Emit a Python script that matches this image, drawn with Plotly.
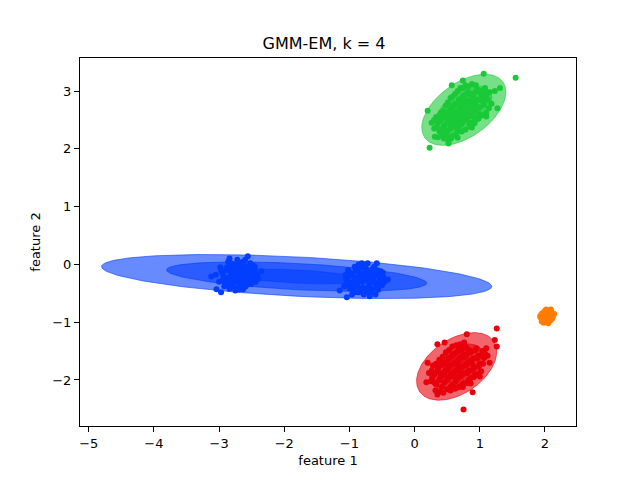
import numpy as np
import plotly.graph_objects as go

# ---------------- data ----------------
blue_x = [-2.95, -2.90, -2.88, -2.85, -2.82, -2.80, -2.78, -2.76, -2.74, -2.72, -2.70, -2.68,
          -2.66, -2.64, -2.62, -2.60, -2.58, -2.56, -2.54, -2.52, -2.50, -2.46, -2.44, -2.42,
          -3.00, -2.98, -2.92, -2.86, -2.72, -2.60, -2.48, -2.40, -2.84, -2.75, -2.66, -3.05,
          -2.56, -2.84, -3.04, -2.97, -2.69, -2.63, -3.12, -2.35, -2.50,
          -2.93, -2.89, -2.87, -2.83, -2.81, -2.79, -2.77, -2.75, -2.73, -2.71, -2.69, -2.67,
          -2.65, -2.63, -2.61, -2.59, -2.57, -2.55, -2.53, -2.51, -2.49, -2.47, -2.45, -2.43,
          -2.97, -2.91, -2.84, -2.78, -2.70, -2.62, -2.58, -2.52, -2.82, -2.68, -2.94, -2.76,
          -1.05, -1.00, -0.98, -0.95, -0.92, -0.90, -0.88, -0.86, -0.84, -0.82, -0.80, -0.78,
          -0.76, -0.74, -0.72, -0.70, -0.68, -0.66, -0.64, -0.62, -0.60, -0.58, -0.56, -0.54,
          -0.52, -0.50, -0.48, -1.08, -0.96, -0.86, -0.72, -0.60, -0.46, -0.78, -1.02,
          -0.58, -0.81, -1.15, -1.04, -0.41, -0.69,
          -1.03, -1.01, -0.99, -0.97, -0.94, -0.93, -0.91, -0.89, -0.87, -0.85, -0.83, -0.81,
          -0.79, -0.77, -0.75, -0.73, -0.71, -0.69, -0.67, -0.65, -0.63, -0.61, -0.59, -0.57,
          -0.55, -0.53, -0.51, -0.49, -0.84, -0.70, -0.88, -0.62, -0.76, -1.06, -0.92, -0.80]
blue_y = [-0.15, -0.25, -0.05, -0.35, -0.12, -0.22, 0.00, -0.30, -0.18, -0.08, -0.40, -0.26,
          -0.14, 0.04, -0.32, -0.20, -0.06, -0.28, -0.14, 0.02, -0.22, -0.10, -0.30, -0.18,
          -0.30, -0.05, -0.38, 0.05, 0.08, 0.08, -0.02, -0.25, -0.42, -0.45, -0.38, -0.18,
          0.14, 0.10, -0.43, -0.48, -0.43, -0.43, -0.21, -0.12, -0.31,
          -0.20, -0.10, -0.30, -0.20, -0.04, -0.34, -0.14, -0.26, -0.02, -0.20, -0.32, -0.06,
          -0.24, -0.10, -0.26, -0.38, -0.16, -0.04, -0.24, -0.34, -0.12, -0.20, -0.04, -0.24,
          -0.10, -0.32, -0.26, -0.40, -0.12, -0.02, -0.32, -0.10, 0.02, 0.02, -0.26, -0.08,
          -0.25, -0.35, -0.15, -0.42, -0.28, -0.10, -0.38, -0.22, -0.48, -0.05, -0.30, -0.18,
          -0.42, -0.08, -0.26, -0.36, -0.14, -0.48, -0.24, -0.04, -0.34, -0.18, -0.44, -0.28,
          -0.12, -0.36, -0.22, -0.38, -0.52, 0.00, 0.02, -0.52, -0.30, -0.52, -0.10,
          0.02, 0.02, -0.45, -0.57, -0.26, -0.55,
          -0.30, -0.20, -0.42, -0.32, -0.20, -0.48, -0.36, -0.24, -0.12, -0.30, -0.42, -0.16,
          -0.40, -0.28, -0.12, -0.46, -0.18, -0.30, -0.42, -0.08, -0.30, -0.20, -0.42, -0.10,
          -0.36, -0.20, -0.30, -0.14, -0.06, -0.50, -0.48, -0.12, -0.02, -0.18, -0.04, -0.24]

orange_x = [1.93, 1.96, 1.97, 2.00, 2.00, 2.01, 2.04, 2.04, 2.07, 2.08, 2.10, 2.12,
            1.98, 2.05, 2.02, 2.14, 1.95, 2.09, 1.99, 2.06, 2.03, 2.11, 1.95, 2.02]
orange_y = [-0.90, -0.85, -0.95, -0.80, -0.90, -0.98, -0.84, -0.93, -0.88, -0.97, -0.82, -0.90,
            -1.01, -1.02, -0.78, -0.86, -0.99, -0.78, -0.86, -0.89, -0.96, -0.94, -0.93, -0.87]

green_x = [0.30, 0.35, 0.38, 0.42, 0.45, 0.47, 0.50, 0.52, 0.55, 0.56, 0.58, 0.60, 0.62, 0.63,
           0.65, 0.66, 0.68, 0.70, 0.71, 0.73, 0.75, 0.76, 0.78, 0.80, 0.82, 0.83, 0.85, 0.87,
           0.88, 0.90, 0.92, 0.94, 0.96, 0.98, 1.00, 1.02, 1.05, 1.08, 1.10, 1.15, 0.40, 0.48,
           0.55, 0.62, 0.70, 0.78, 0.88, 0.45, 0.58, 0.72, 0.85, 0.98, 1.10, 1.18, 0.33, 0.26,
           0.36, 0.52,
           0.34, 0.39, 0.43, 0.46, 0.49, 0.51, 0.53, 0.54, 0.57, 0.59, 0.61, 0.63, 0.64, 0.67,
           0.68, 0.69, 0.71, 0.73, 0.74, 0.75, 0.77, 0.79, 0.80, 0.81, 0.83, 0.84, 0.86, 0.87,
           0.89, 0.91, 0.93, 0.95, 0.97, 0.99, 1.01, 1.03, 1.06, 1.09, 1.12, 0.44, 0.51, 0.58,
           0.66, 0.74, 0.82, 0.94, 0.50, 0.64, 0.78, 0.92, 1.04, 1.14, 0.38, 0.30, 0.42, 0.56,
           0.60, 0.72, 0.86, 0.68,
           1.55, 1.06, 0.23, 0.20, 0.52, 1.27, 1.31, 0.74, 0.57, 0.66, 0.31, 0.88, 1.23, 1.10]
green_y = [2.35, 2.45, 2.30, 2.52, 2.40, 2.28, 2.60, 2.47, 2.35, 2.70, 2.55, 2.42, 2.78, 2.63,
           2.50, 2.33, 2.85, 2.70, 2.58, 2.45, 2.92, 2.78, 2.65, 2.52, 2.98, 2.84, 2.72, 2.60,
           2.45, 2.90, 2.78, 2.66, 3.02, 2.85, 2.72, 2.95, 2.82, 3.05, 2.90, 2.98, 2.62, 2.75,
           2.88, 2.95, 3.05, 3.10, 3.12, 2.18, 2.22, 2.30, 2.38, 2.52, 2.62, 2.78, 2.55, 2.45,
           2.20, 2.12,
           2.38, 2.48, 2.35, 2.55, 2.44, 2.32, 2.65, 2.52, 2.40, 2.75, 2.60, 2.48, 2.36, 2.80,
           2.66, 2.54, 2.42, 2.88, 2.74, 2.61, 2.50, 2.94, 2.82, 2.68, 2.56, 2.44, 2.95, 2.80,
           2.68, 2.55, 2.98, 2.84, 2.72, 2.60, 3.00, 2.88, 2.76, 2.96, 2.85, 2.65, 2.80, 2.90,
           3.00, 3.05, 3.08, 3.10, 2.22, 2.25, 2.33, 2.44, 2.58, 2.70, 2.58, 2.50, 2.25, 2.18,
           2.50, 2.64, 2.74, 2.40,
           3.23, 3.30, 2.02, 2.66, 2.09, 2.70, 3.05, 3.18, 3.10, 2.19, 2.21, 2.37, 3.00, 2.56]

red_x = [0.25, 0.30, 0.33, 0.36, 0.40, 0.42, 0.45, 0.47, 0.50, 0.52, 0.54, 0.56, 0.58, 0.60,
         0.62, 0.64, 0.66, 0.68, 0.70, 0.72, 0.74, 0.76, 0.78, 0.80, 0.82, 0.84, 0.86, 0.88,
         0.90, 0.92, 0.95, 0.98, 1.00, 1.04, 1.07, 1.10, 0.28, 0.38, 0.48, 0.58, 0.70, 0.32,
         0.44, 0.55, 0.68, 0.80, 0.92, 1.02, 0.22, 0.62, 0.50, 0.74,
         0.27, 0.31, 0.35, 0.38, 0.41, 0.43, 0.46, 0.49, 0.51, 0.53, 0.55, 0.57, 0.59, 0.61,
         0.63, 0.65, 0.67, 0.69, 0.71, 0.73, 0.75, 0.77, 0.79, 0.81, 0.83, 0.85, 0.87, 0.89,
         0.91, 0.93, 0.96, 0.99, 1.02, 1.05, 1.08, 1.12, 0.33, 0.43, 0.53, 0.64, 0.76, 0.38,
         0.50, 0.62, 0.74, 0.86, 0.96, 0.26, 0.57, 0.66, 0.82, 0.45, 0.70, 0.88,
         1.26, 1.23, 1.26, 0.89, 0.75, 0.80, 0.35, 0.46, 0.18, 0.35, 1.15, 1.08, 1.00, 0.65, 0.20]
red_y = [-2.02, -1.90, -2.08, -1.80, -1.95, -2.12, -1.70, -1.85, -2.00, -1.62, -1.76, -1.92,
         -2.08, -1.55, -1.70, -1.84, -1.98, -1.48, -1.62, -1.77, -1.90, -2.05, -1.42, -1.56,
         -1.70, -1.84, -1.97, -1.50, -1.63, -1.78, -1.45, -1.58, -1.72, -1.50, -1.62, -1.45,
         -1.75, -1.65, -1.52, -1.42, -1.38, -2.18, -2.22, -2.18, -2.12, -2.05, -1.92, -1.85,
         -1.88, -1.95, -1.78, -1.55,
         -1.96, -2.05, -1.86, -2.00, -1.74, -1.88, -2.04, -1.68, -1.82, -1.96, -2.12, -1.58,
         -1.72, -1.86, -2.02, -1.52, -1.66, -1.80, -1.94, -2.08, -1.45, -1.60, -1.74, -1.88,
         -2.00, -1.53, -1.66, -1.82, -1.95, -1.48, -1.62, -1.76, -1.58, -1.72, -1.54, -1.58,
         -1.72, -1.60, -1.48, -1.40, -1.35, -2.20, -2.16, -2.15, -2.12, -2.06, -1.90, -1.84,
         -1.90, -1.74, -1.47, -1.92, -1.88, -1.72,
         -1.11, -1.31, -1.42, -2.21, -2.51, -1.21, -1.38, -1.35, -2.04, -2.25, -1.70, -1.56,
         -1.94, -2.13, -1.70]

# fitted Gaussian components: blue, orange, green, red
comp_names = ["blue", "orange", "green", "red"]
comp_colors = ["#023eff", "#ff7c00", "#1ac938", "#e8000b"]
comp_mean_x = [-1.81, 2.02, 0.755, 0.645]
comp_mean_y = [-0.21, -0.90, 2.675, -1.765]
comp_sx = [0.998, 0.045, 0.215, 0.205]
comp_sy = [0.127, 0.040, 0.205, 0.195]
comp_rho = [-0.449, 0.0, 0.50, 0.436]
sigma_levels = [3, 2, 1]

x_ticks = [-5, -4, -3, -2, -1, 0, 1, 2]
y_ticks = [-2, -1, 0, 1, 2, 3]


def rgba(hexcol, a):
    h = hexcol.lstrip("#")
    r, g, b = int(h[0:2], 16), int(h[2:4], 16), int(h[4:6], 16)
    return f"rgba({r},{g},{b},{a})"


fig = go.Figure()

t = np.linspace(0, 2 * np.pi, 200)
for k in range(len(comp_names)):
    cxy = comp_rho[k] * comp_sx[k] * comp_sy[k]
    cov = np.array([[comp_sx[k] ** 2, cxy], [cxy, comp_sy[k] ** 2]])
    vals, vecs = np.linalg.eigh(cov)
    L = vecs @ np.diag(np.sqrt(vals))
    circ = np.vstack([np.cos(t), np.sin(t)])
    for n in sigma_levels:
        pts = n * (L @ circ)
        fig.add_trace(go.Scatter(
            x=comp_mean_x[k] + pts[0], y=comp_mean_y[k] + pts[1],
            mode="lines", fill="toself",
            fillcolor=rgba(comp_colors[k], 0.6),
            line=dict(color=rgba(comp_colors[k], 0.6), width=1),
            hoverinfo="skip", showlegend=False))

clusters = [(blue_x, blue_y), (orange_x, orange_y), (green_x, green_y), (red_x, red_y)]
for k, (xs, ys) in enumerate(clusters):
    fig.add_trace(go.Scatter(
        x=xs, y=ys, mode="markers",
        marker=dict(color=comp_colors[k], size=6, line=dict(width=0)),
        showlegend=False))

axis_common = dict(
    showgrid=False, zeroline=False, showline=True, mirror=True,
    linecolor="black", linewidth=1, ticks="outside", ticklen=5,
    tickcolor="black", tickfont=dict(family="DejaVu Sans", size=13, color="black"),
)

# the page adds an 8px body margin, so the figure is sized to sit inside the window
fig.update_layout(
    width=632, height=472,
    margin=dict(l=72, r=64, t=50, b=54),
    plot_bgcolor="white", paper_bgcolor="white",
    title=dict(text="GMM-EM, k = 4", x=0.5, xanchor="center", y=1 - 35 / 472, yanchor="middle",
               font=dict(family="DejaVu Sans", size=16, color="black")),
    xaxis=dict(range=[-5.134, 2.476], tickvals=x_ticks,
               title=dict(text="feature 1", font=dict(family="DejaVu Sans", size=13, color="black"),
                          standoff=6),
               **axis_common),
    yaxis=dict(range=[-2.796, 3.571], tickvals=y_ticks,
               title=dict(text="feature 2", font=dict(family="DejaVu Sans", size=13, color="black"),
                          standoff=8),
               **axis_common),
)

fig.write_html("out.html")
